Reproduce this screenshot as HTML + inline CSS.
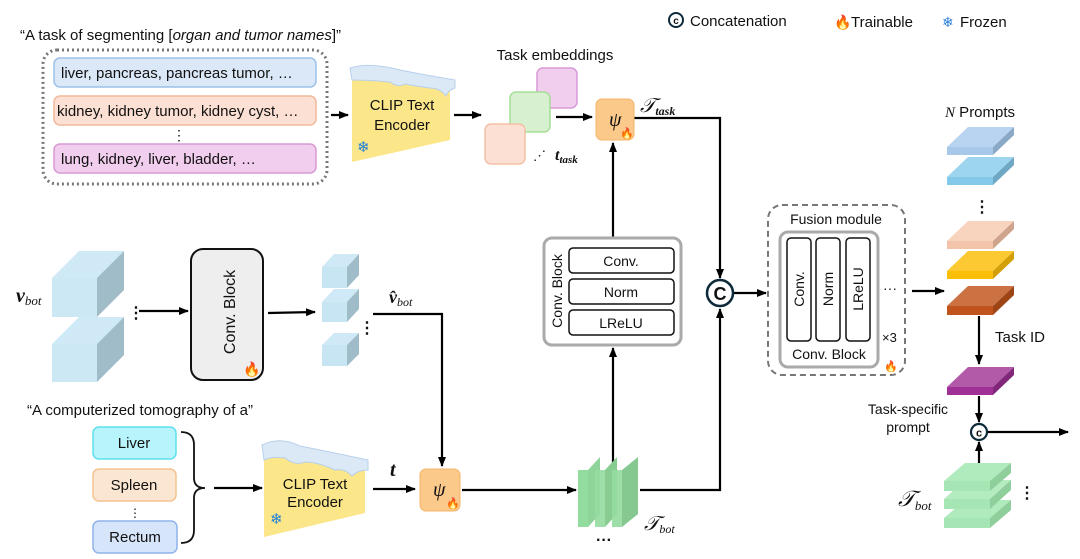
<!DOCTYPE html>
<html><head><meta charset="utf-8"><style>
html,body{margin:0;padding:0;background:#fff}
svg{display:block}
text{font-family:"Liberation Sans",sans-serif;fill:#111}
.m{font-family:"Liberation Serif",serif;font-style:italic}
</style></head><body>
<svg width="1080" height="559" viewBox="0 0 1080 559" xmlns="http://www.w3.org/2000/svg">
<defs>
<marker id="a" markerWidth="10" markerHeight="8" refX="9" refY="4" orient="auto" markerUnits="userSpaceOnUse"><path d="M0,0 L10,4 L0,8 z" fill="#000"/></marker>
</defs>
<g stroke="#000" stroke-width="2.2" fill="none">
<line x1="331" y1="115" x2="348" y2="115" marker-end="url(#a)"/>
<line x1="454" y1="115" x2="481" y2="115" marker-end="url(#a)"/>
<line x1="556" y1="117" x2="592" y2="117" marker-end="url(#a)"/>
<polyline points="634,118 720,118 720,278" marker-end="url(#a)"/>
<line x1="613" y1="237" x2="613" y2="143" marker-end="url(#a)"/>
<line x1="613" y1="470" x2="613" y2="348" marker-end="url(#a)"/>
<line x1="139" y1="311" x2="188" y2="311" marker-end="url(#a)"/>
<line x1="268" y1="313" x2="315" y2="312" marker-end="url(#a)"/>
<polyline points="373,314 442,314 442,466" marker-end="url(#a)"/>
<line x1="214" y1="488" x2="262" y2="488" marker-end="url(#a)"/>
<line x1="373" y1="489" x2="415" y2="489" marker-end="url(#a)"/>
<line x1="462" y1="490" x2="576" y2="490" marker-end="url(#a)"/>
<polyline points="640,490 720,490 720,309" marker-end="url(#a)"/>
<line x1="734" y1="293" x2="766" y2="293" marker-end="url(#a)"/>
<line x1="912" y1="291" x2="944" y2="291" marker-end="url(#a)"/>
<line x1="979" y1="316" x2="979" y2="364" marker-end="url(#a)"/>
<line x1="979" y1="396" x2="979" y2="422" marker-end="url(#a)"/>
<line x1="979" y1="463" x2="979" y2="442" marker-end="url(#a)"/>
<line x1="987" y1="432" x2="1068" y2="432" marker-end="url(#a)"/>
</g>
<circle cx="676" cy="20" r="7" fill="none" stroke="#0d2a3a" stroke-width="2"/><text x="676" y="24" font-size="10" text-anchor="middle" font-weight="bold">c</text>
<text x="690" y="26" font-size="15">Concatenation</text>
<text x="834" y="27" font-size="14">🔥</text><text x="851" y="27" font-size="15">Trainable</text>
<text x="942" y="27" font-size="14" style="fill:#2a7fd4">❄</text><text x="960" y="27" font-size="15">Frozen</text>
<text x="20" y="40" font-size="15">“A task of segmenting [<tspan font-style="italic">organ and tumor names</tspan>]”</text>
<rect x="43" y="50" width="284" height="134" rx="14" fill="none" stroke="#777" stroke-width="3" stroke-dasharray="2,3"/>
<rect x="54" y="58" width="262" height="29" rx="6" fill="#dbe8f7" stroke="#9cc0ea" stroke-width="1.5"/>
<text x="61" y="78" font-size="15">liver, pancreas, pancreas tumor, …</text>
<rect x="54" y="96" width="262" height="29" rx="6" fill="#fbe0d3" stroke="#f2b99a" stroke-width="1.5"/>
<text x="57" y="116" font-size="15">kidney, kidney tumor, kidney cyst, …</text>
<text x="172" y="140" font-size="14">⋮</text>
<rect x="54" y="144" width="262" height="29" rx="6" fill="#f1cdee" stroke="#d79ad3" stroke-width="1.5"/>
<text x="61" y="164" font-size="15">lung, kidney, liver, bladder, …</text>
<polygon points="352,72 450,84 450,140 352,162" fill="#fbe68a"/>
<path d="M350,68 Q370,62 400,70 Q430,76 455,80 L455,88 Q448,90 446,96 Q440,88 430,88 Q415,86 405,84 Q398,88 390,82 Q370,80 352,80 z" fill="#dbe9f7" stroke="#b7d0ea"/>
<text x="402" y="110" font-size="15" text-anchor="middle">CLIP Text</text>
<text x="402" y="130" font-size="15" text-anchor="middle">Encoder</text>
<text x="357" y="152" font-size="15" style="fill:#1e7fd8">❄</text>
<text x="555" y="60" font-size="15" text-anchor="middle">Task embeddings</text>
<rect x="537" y="68" width="40" height="40" rx="6" fill="#f1cdee" stroke="#d99ad6" stroke-width="1.5"/>
<rect x="510" y="92" width="40" height="40" rx="6" fill="#d7f1d0" stroke="#a6dd98" stroke-width="1.5"/>
<rect x="485" y="124" width="40" height="40" rx="6" fill="#fbe0d3" stroke="#f2c0a6" stroke-width="1.5"/>
<text x="533" y="160" font-size="13">⋰</text>
<text x="555" y="160" font-size="16" class="m" font-weight="bold">t<tspan font-size="11" dy="3">task</tspan></text>
<rect x="596" y="99" width="38" height="41" rx="6" fill="#fbc98a" stroke="#f6b56a"/>
<text x="609" y="126" font-size="20" class="m">ψ</text><text x="620" y="137" font-size="11">🔥</text>
<text x="640" y="112" font-size="20" class="m">𝒯<tspan font-size="12" dy="3" font-weight="bold">task</tspan></text>
<circle cx="720" cy="293" r="13" fill="#fff" stroke="#0d2a3a" stroke-width="2.5"/>
<text x="720" y="300" font-size="18" text-anchor="middle" font-weight="bold">C</text>
<rect x="544" y="238" width="137" height="107" rx="8" fill="#fff" stroke="#aaa" stroke-width="3"/>
<rect x="569" y="248" width="105" height="25" rx="4" fill="#fff" stroke="#111" stroke-width="1.5"/>
<text x="621" y="266" font-size="14" text-anchor="middle">Conv.</text>
<rect x="569" y="279" width="105" height="25" rx="4" fill="#fff" stroke="#111" stroke-width="1.5"/>
<text x="621" y="297" font-size="14" text-anchor="middle">Norm</text>
<rect x="569" y="310" width="105" height="25" rx="4" fill="#fff" stroke="#111" stroke-width="1.5"/>
<text x="621" y="328" font-size="14" text-anchor="middle">LReLU</text>
<text transform="translate(562,291) rotate(-90)" font-size="14" text-anchor="middle">Conv. Block</text>
<g>
<polygon points="52,278 97,278 124,251 79,251" fill="#cfe9f6"/><rect x="52" y="278" width="45" height="39" fill="#cde8f5"/><polygon points="97,278 124,251 124,290 97,317" fill="#9fbcc8"/>
<polygon points="52,344 97,344 124,317 79,317" fill="#cfe9f6"/><rect x="52" y="344" width="45" height="38" fill="#cde8f5"/><polygon points="97,344 124,317 124,355 97,382" fill="#9fbcc8"/>
</g>
<text x="16" y="302" font-size="20" class="m" font-weight="bold">v<tspan font-size="13" dy="3" font-weight="normal">bot</tspan></text>
<text x="128" y="318" font-size="16" font-weight="bold">⋮</text>
<rect x="191" y="249" width="72" height="131" rx="12" fill="#eeeeee" stroke="#111" stroke-width="2"/>
<text transform="translate(235,312) rotate(-90)" font-size="16" text-anchor="middle">Conv. Block</text>
<text x="243" y="374" font-size="14">🔥</text>
<g fill="#c7e5f3">
<polygon points="322,267 347,267 359,254 334,254" fill="#cfe9f6"/><rect x="322" y="267" width="25" height="21"/><polygon points="347,267 359,254 359,275 347,288" fill="#9fbcc8"/>
<polygon points="322,302 347,302 359,289 334,289" fill="#cfe9f6"/><rect x="322" y="302" width="25" height="20"/><polygon points="347,302 359,289 359,309 347,322" fill="#9fbcc8"/>
<polygon points="322,345 347,345 359,333 334,333" fill="#cfe9f6"/><rect x="322" y="345" width="25" height="21"/><polygon points="347,345 359,333 359,354 347,366" fill="#9fbcc8"/>
</g>
<text x="359" y="333" font-size="16" font-weight="bold">⋮</text>
<text x="389" y="303" font-size="18" class="m" font-weight="bold">v̂<tspan font-size="12" dy="3" font-weight="normal">bot</tspan></text>
<text x="27" y="415" font-size="15">“A computerized tomography of a”</text>
<rect x="93" y="427" width="83" height="32" rx="6" fill="#b7f4fb" stroke="#5fe0ef" stroke-width="1.5"/><text x="134" y="448" font-size="15" text-anchor="middle">Liver</text>
<rect x="93" y="469" width="83" height="32" rx="6" fill="#fbe6d2" stroke="#f5c38f" stroke-width="1.5"/><text x="134" y="490" font-size="15" text-anchor="middle">Spleen</text>
<text x="129" y="517" font-size="12">⋮</text>
<rect x="93" y="521" width="84" height="32" rx="6" fill="#d6e5fa" stroke="#8fb3ea" stroke-width="1.5"/><text x="135" y="542" font-size="15" text-anchor="middle">Rectum</text>
<path d="M181,432 Q194,432 194,445 L194,478 Q194,488 205,488 Q194,488 194,498 L194,530 Q194,543 181,543" fill="none" stroke="#111" stroke-width="1.8"/>
<polygon points="264,449 365,462 365,513 264,537" fill="#fbe68a"/>
<path d="M262,445 Q280,436 300,446 Q330,452 368,460 L368,470 Q358,470 352,476 Q345,468 335,470 Q318,462 305,462 Q295,466 285,458 Q272,456 264,460 z" fill="#dbe9f7" stroke="#b7d0ea"/>
<text x="315" y="489" font-size="15" text-anchor="middle">CLIP Text</text>
<text x="315" y="507" font-size="15" text-anchor="middle">Encoder</text>
<text x="270" y="524" font-size="15" style="fill:#1e7fd8">❄</text>
<text x="390" y="476" font-size="20" class="m" font-weight="bold">t</text>
<rect x="420" y="469" width="40" height="42" rx="6" fill="#fbc98a" stroke="#f6b56a"/>
<text x="433" y="496" font-size="20" class="m">ψ</text><text x="446" y="507" font-size="11">🔥</text>
<g>
<rect x="578" y="470" width="10" height="57" fill="#93dca0"/><polygon points="588,470 600,457 600,514 588,527" fill="#8fd49a"/>
<rect x="595" y="470" width="10" height="57" fill="#93dca0" opacity=".9"/><polygon points="605,470 617,457 617,514 605,527" fill="#88cc92"/>
<rect x="612" y="470" width="10" height="57" fill="#93dca0" opacity=".9"/><polygon points="622,470 638,457 638,514 622,527" fill="#86c990"/>
</g>
<text x="596" y="545" font-size="16" font-weight="bold">···</text>
<text x="644" y="530" font-size="20" class="m">𝒯<tspan font-size="12" dy="3">bot</tspan></text>
<rect x="768" y="205" width="137" height="170" rx="14" fill="none" stroke="#777" stroke-width="2" stroke-dasharray="6,4"/>
<text x="836" y="224" font-size="14" text-anchor="middle">Fusion module</text>
<rect x="780" y="232" width="98" height="135" rx="8" fill="#fff" stroke="#aaa" stroke-width="3"/>
<rect x="787" y="238" width="24" height="103" rx="4" fill="#fff" stroke="#111" stroke-width="1.5"/>
<rect x="816" y="238" width="24" height="103" rx="4" fill="#fff" stroke="#111" stroke-width="1.5"/>
<rect x="846" y="238" width="24" height="103" rx="4" fill="#fff" stroke="#111" stroke-width="1.5"/>
<text transform="translate(804,289) rotate(-90)" font-size="14" text-anchor="middle">Conv.</text>
<text transform="translate(833,289) rotate(-90)" font-size="14" text-anchor="middle">Norm</text>
<text transform="translate(863,289) rotate(-90)" font-size="14" text-anchor="middle">LReLU</text>
<text x="829" y="359" font-size="14" text-anchor="middle">Conv. Block</text>
<text x="883" y="293" font-size="14">···</text>
<text x="882" y="342" font-size="13">×3</text>
<text x="884" y="370" font-size="11">🔥</text>
<text x="945" y="117" font-size="15"><tspan class="m">N</tspan> Prompts</text>
<g>
<polygon points="947,147 993,147 1014,127 968,127" fill="#b8d4f0"/><rect x="947" y="147" width="46" height="8" fill="#a8c8ea"/><polygon points="993,147 1014,127 1014,135 993,155" fill="#8aa9c6"/>
<polygon points="947,177 993,177 1014,157 968,157" fill="#9dd5ef"/><rect x="947" y="177" width="46" height="8" fill="#85c9ea"/><polygon points="993,177 1014,157 1014,165 993,185" fill="#6ea8c4"/>
<polygon points="947,241 993,241 1014,221 968,221" fill="#f8d3be"/><rect x="947" y="241" width="46" height="8" fill="#f4c4aa"/><polygon points="993,241 1014,221 1014,229 993,249" fill="#cfa48c"/>
<polygon points="947,271 993,271 1014,251 968,251" fill="#fdc933"/><rect x="947" y="271" width="46" height="8" fill="#fcbf08"/><polygon points="993,271 1014,251 1014,259 993,279" fill="#d29f08"/>
<polygon points="947,306 993,306 1014,286 968,286" fill="#cb7142"/><rect x="947" y="306" width="46" height="9" fill="#c0541c"/><polygon points="993,306 1014,286 1014,295 993,315" fill="#9e4516"/>
<polygon points="947,387 993,387 1014,367 968,367" fill="#b25aa8"/><rect x="947" y="387" width="46" height="8" fill="#a02f96"/><polygon points="993,387 1014,367 1014,375 993,395" fill="#80277a"/>
</g>
<text x="974" y="212" font-size="16" font-weight="bold">⋮</text>
<text x="995" y="342" font-size="15">Task ID</text>
<text x="908" y="414" font-size="14" text-anchor="middle">Task-specific</text>
<text x="908" y="432" font-size="14" text-anchor="middle">prompt</text>
<circle cx="979" cy="432" r="8" fill="#fff" stroke="#0d2a3a" stroke-width="2.2"/><text x="979" y="436.5" font-size="11" text-anchor="middle" font-weight="bold">c</text>
<g>
<polygon points="944,518 990,518 1011,500 965,500" fill="#b0ebbd"/><rect x="944" y="518" width="46" height="10" fill="#a6e6b4"/><polygon points="990,518 1011,500 1011,510 990,528" fill="#8fcf9c"/>
<polygon points="944,499 990,499 1011,480 965,480" fill="#b0ebbd" opacity=".95"/><rect x="944" y="499" width="46" height="10" fill="#a6e6b4"/><polygon points="990,499 1011,480 1011,490 990,509" fill="#8fcf9c"/>
<polygon points="944,481 990,481 1011,463 965,463" fill="#b0ebbd"/><rect x="944" y="481" width="46" height="10" fill="#a6e6b4"/><polygon points="990,481 1011,463 1011,473 990,491" fill="#8fcf9c"/>
</g>
<text x="1019" y="498" font-size="16" font-weight="bold">⋮</text>
<text x="898" y="506" font-size="22" class="m">𝒯<tspan font-size="13" dy="4">bot</tspan></text>
</svg>
</body></html>
